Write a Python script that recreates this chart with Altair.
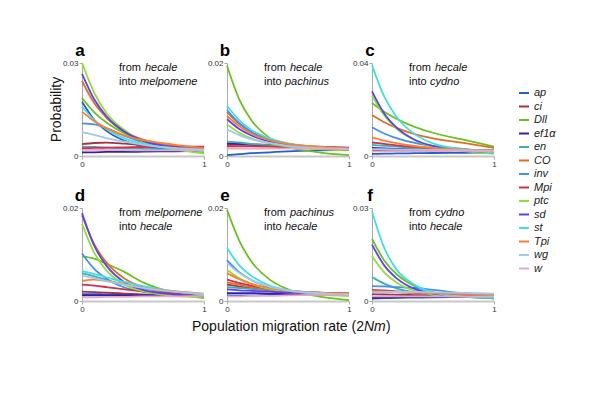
import altair as alt
import pandas as pd

X = [0, 0.1, 0.2, 0.35, 0.5, 0.75, 1]
GENES = ["ap", "ci", "Dll", "ef1α", "en", "CO", "inv", "Mpi", "ptc", "sd", "st", "Tpi", "wg", "w"]
COLORS = ["#2060d0", "#a83040", "#6cc020", "#3020b0", "#40b0b0", "#e07020", "#4090f0",
          "#d03050", "#90e030", "#6040f0", "#40e0e0", "#ff7f30", "#a0c8f0", "#e8a8c0"]
LETTERS = ["a", "b", "c", "d", "e", "f"]
FROM_SP = ["hecale", "hecale", "hecale", "melpomene", "pachinus", "cydno"]
INTO_SP = ["melpomene", "pachinus", "cydno", "hecale", "hecale", "hecale"]
Y_MAX = [0.03, 0.02, 0.04, 0.02, 0.02, 0.03]

PANEL_A = {
    "ptc": [.0300, .0204, .0139, .0083, .0046, .0022, .0008],
    "sd": [.0265, .0183, .0128, .0078, .0049, .0028, .0015],
    "CO": [.0242, .0171, .0124, .0078, .0053, .0033, .0020],
    "Dll": [.0187, .0141, .0108, .0073, .0051, .0030, .0012],
    "ap": [.0175, .0117, .0081, .0049, .0032, .0020, .0015],
    "st": [.0159, .0116, .0087, .0057, .0039, .0025, .0015],
    "Tpi": [.0143, .0112, .0090, .0066, .0051, .0037, .0025],
    "inv": [.0105, .0102, .0090, .0065, .0045, .0030, .0022],
    "wg": [.0077, .0068, .0058, .0046, .0036, .0026, .0020],
    "ci": [.0038, .0042, .0043, .0040, .0036, .0031, .0028],
    "Mpi": [.0025, .0026, .0027, .0028, .0029, .0030, .0030],
    "en": [.0030, .0029, .0027, .0025, .0023, .0021, .0020],
    "ef1α": [.0012, .0012, .0013, .0013, .0014, .0015, .0016],
    "w": [.0020, .0020, .0019, .0019, .0018, .0018, .0018],
}
PANEL_B = {
    "Dll": [.0194, .0122, .0077, .0039, .0020, .0008, .0002],
    "st": [.0108, .0077, .0056, .0038, .0027, .0019, .0014],
    "CO": [.0095, .0069, .0051, .0035, .0026, .0019, .0015],
    "inv": [.0099, .0071, .0052, .0035, .0025, .0018, .0014],
    "ap": [.0002, .0004, .0006, .0008, .0010, .0012, .0013],
    "Tpi": [.0086, .0064, .0048, .0034, .0026, .0020, .0016],
    "sd": [.0079, .0058, .0044, .0031, .0023, .0017, .0014],
    "ptc": [.0068, .0050, .0038, .0027, .0020, .0015, .0012],
    "wg": [.0057, .0045, .0036, .0028, .0022, .0017, .0015],
    "en": [.0031, .0029, .0026, .0023, .0020, .0018, .0016],
    "ci": [.0024, .0025, .0025, .0024, .0022, .0020, .0018],
    "Mpi": [.0021, .0021, .0021, .0020, .0019, .0018, .0017],
    "ef1α": [.0027, .0026, .0024, .0022, .0020, .0018, .0016],
    "w": [.0016, .0016, .0016, .0016, .0016, .0016, .0016],
}
PANEL_C = {
    "st": [.0391, .0256, .0169, .0094, .0054, .0028, .0015],
    "sd": [.0278, .0183, .0123, .0070, .0043, .0024, .0015],
    "ptc": [.0260, .0175, .0118, .0068, .0040, .0021, .0010],
    "Dll": [.0228, .0190, .0160, .0125, .0100, .0070, .0040],
    "CO": [.0176, .0145, .0121, .0094, .0076, .0056, .0035],
    "inv": [.0124, .0097, .0077, .0056, .0043, .0030, .0020],
    "Tpi": [.0080, .0066, .0055, .0043, .0035, .0027, .0022],
    "Mpi": [.0058, .0052, .0046, .0039, .0033, .0027, .0023],
    "en": [.0048, .0044, .0040, .0035, .0031, .0027, .0024],
    "ef1α": [.0035, .0033, .0031, .0029, .0027, .0025, .0024],
    "wg": [.0030, .0029, .0028, .0027, .0026, .0025, .0024],
    "ci": [.0025, .0025, .0025, .0025, .0025, .0025, .0025],
    "w": [.0020, .0020, .0021, .0021, .0021, .0022, .0022],
    "ap": [.0009, .0010, .0011, .0012, .0013, .0014, .0015],
}
PANEL_D = {
    "sd": [.0189, .0119, .0076, .0040, .0024, .0014, .0010],
    "CO": [.0184, .0122, .0083, .0048, .0030, .0018, .0012],
    "ptc": [.0166, .0104, .0066, .0035, .0021, .0011, .0008],
    "inv": [.0102, .0069, .0048, .0029, .0020, .0013, .0010],
    "Dll": [.0096, .0091, .0080, .0062, .0040, .0018, .0006],
    "st": [.0064, .0058, .0051, .0041, .0032, .0021, .0014],
    "en": [.0060, .0053, .0045, .0035, .0027, .0018, .0013],
    "wg": [.0055, .0049, .0043, .0035, .0028, .0020, .0015],
    "Tpi": [.0043, .0046, .0043, .0036, .0029, .0021, .0016],
    "Mpi": [.0035, .0033, .0030, .0025, .0021, .0016, .0013],
    "ci": [.0020, .0019, .0018, .0016, .0014, .0012, .0011],
    "ef1α": [.0012, .0012, .0012, .0012, .0012, .0012, .0012],
    "w": [.0008, .0008, .0009, .0009, .0010, .0010, .0011],
    "ap": [.0015, .0015, .0014, .0014, .0013, .0012, .0012],
}
PANEL_E = {
    "Dll": [.0196, .0130, .0085, .0046, .0025, .0010, .0002],
    "st": [.0114, .0077, .0054, .0033, .0023, .0015, .0012],
    "inv": [.0088, .0062, .0045, .0030, .0021, .0015, .0012],
    "wg": [.0082, .0060, .0045, .0031, .0023, .0017, .0014],
    "ptc": [.0067, .0049, .0037, .0026, .0019, .0014, .0011],
    "Tpi": [.0060, .0047, .0037, .0028, .0022, .0018, .0016],
    "Mpi": [.0046, .0039, .0033, .0026, .0022, .0018, .0016],
    "CO": [.0040, .0035, .0030, .0025, .0021, .0018, .0017],
    "ci": [.0035, .0031, .0028, .0024, .0020, .0017, .0015],
    "en": [.0030, .0028, .0026, .0023, .0020, .0017, .0015],
    "sd": [.0025, .0023, .0022, .0020, .0018, .0016, .0015],
    "ef1α": [.0017, .0017, .0017, .0016, .0015, .0014, .0014],
    "ap": [.0012, .0012, .0012, .0013, .0013, .0014, .0014],
    "w": [.0010, .0010, .0011, .0011, .0012, .0013, .0014],
}
PANEL_F = {
    "st": [.0289, .0172, .0102, .0052, .0028, .0014, .0010],
    "Dll": [.0200, .0131, .0087, .0048, .0028, .0015, .0008],
    "sd": [.0182, .0115, .0074, .0039, .0024, .0013, .0010],
    "ptc": [.0145, .0092, .0060, .0033, .0021, .0013, .0010],
    "en": [.0077, .0056, .0041, .0028, .0021, .0015, .0012],
    "inv": [.0048, .0047, .0045, .0042, .0036, .0025, .0017],
    "Mpi": [.0036, .0034, .0031, .0027, .0023, .0019, .0016],
    "Tpi": [.0032, .0031, .0029, .0027, .0025, .0022, .0020],
    "CO": [.0030, .0029, .0028, .0026, .0024, .0021, .0019],
    "wg": [.0028, .0029, .0029, .0029, .0028, .0026, .0024],
    "ci": [.0022, .0021, .0020, .0019, .0018, .0017, .0016],
    "ef1α": [.0010, .0011, .0012, .0013, .0014, .0015, .0016],
    "ap": [.0008, .0009, .0010, .0011, .0012, .0013, .0014],
    "w": [.0015, .0015, .0015, .0015, .0015, .0015, .0015],
}
PANELS = [PANEL_A, PANEL_B, PANEL_C, PANEL_D, PANEL_E, PANEL_F]

FONT = "Liberation Sans"
W, H = 122, 93


def txt(text, x, y, **kw):
    return alt.Chart(pd.DataFrame({"t": [text]})).mark_text(
        font=FONT, align=kw.pop("align", "left"), baseline="middle", **kw
    ).encode(x=alt.value(x), y=alt.value(y), text="t:N")


def panel(i):
    rows = []
    for g in GENES:
        for xv, yv in zip(X, PANELS[i][g]):
            rows.append({"gene": g, "x": xv, "y": yv})
    df = pd.DataFrame(rows)
    lines = alt.Chart(df).mark_line(strokeWidth=1.8, interpolate="monotone").encode(
        x=alt.X("x:Q", scale=alt.Scale(domain=[0, 1], nice=False),
                axis=alt.Axis(values=[0, 1], format="d", title=None, labelFlush=False,
                              domainColor="#c8c8c8", domainWidth=2)),
        y=alt.Y("y:Q", scale=alt.Scale(domain=[0, Y_MAX[i]], nice=False),
                axis=alt.Axis(values=[0, Y_MAX[i]], format=".2~f", title=None)),
        color=alt.Color("gene:N", scale=alt.Scale(domain=GENES, range=COLORS),
                        legend=alt.Legend(title=None, orient="none", legendX=436, legendY=24,
                                          symbolType="stroke", symbolSize=100,
                                          symbolStrokeWidth=2, labelFontStyle="italic",
                                          labelFontSize=11, labelFont=FONT,
                                          labelColor="#222", rowPadding=2.5)),
    )
    layers = [lines,
              txt(LETTERS[i], -2, -12, align="center", fontSize=17, fontWeight="bold"),
              txt("from", 37, 5, fontSize=11, color="#111"),
              txt(FROM_SP[i], 63, 5, fontSize=11, fontStyle="italic", color="#111"),
              txt("into", 37, 19, fontSize=11, color="#111"),
              txt(INTO_SP[i], 58, 19, fontSize=11, fontStyle="italic", color="#111")]
    if i == 0:
        layers.append(txt("Probability", -25, H / 2, align="center", angle=270,
                          fontSize=14, color="#111"))
    if i == 4:
        layers.append(txt("Population migration rate (2", -35, H + 26, fontSize=14, color="#111"))
        layers.append(txt("Nm", 137, H + 26, fontSize=14, fontStyle="italic", color="#111"))
        layers.append(txt(")", 159, H + 26, fontSize=14, color="#111"))
    return alt.layer(*layers).properties(width=W, height=H)


chart = alt.concat(
    *[panel(i) for i in range(6)],
    columns=3, spacing={"row": 52, "column": 23}, bounds="flush",
).properties(
    padding={"left": 42, "top": 34, "right": 5, "bottom": 5}
).configure_axis(
    grid=False, domainColor="#aaaaaa", tickColor="#aaaaaa", tickSize=3,
    labelFontSize=8, labelColor="#333333", labelFont=FONT, labelPadding=1,
).configure_view(stroke=None)

chart.save("out.html", embed_options={"renderer": "svg", "actions": False})
